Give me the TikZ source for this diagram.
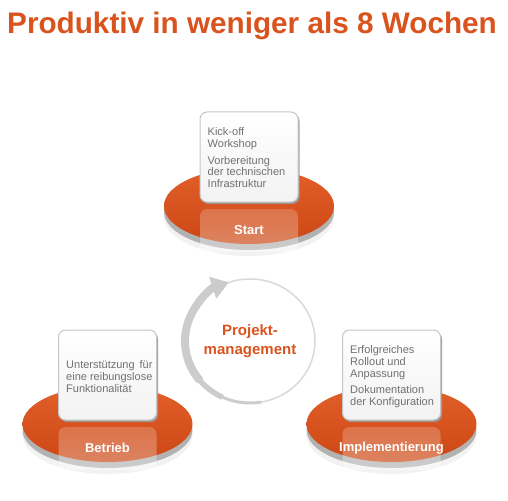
\documentclass[tikz,border=0pt]{standalone}
\usepackage{fontspec}
\setmainfont{Liberation Sans}
\usetikzlibrary{arrows.meta,shadows,fadings}
\definecolor{orng}{HTML}{D9531E}
\definecolor{disktop}{HTML}{E25F2A}
\definecolor{diskbot}{HTML}{CC4714}
\definecolor{txtgray}{HTML}{707070}
\tikzset{
  card/.style={draw=gray!45,line width=1pt,rounded corners=7pt,minimum width=98pt,minimum height=90pt,
    top color=white,bottom color=gray!10,
    drop shadow={shadow xshift=1.5pt,shadow yshift=-2pt,fill=gray!80,opacity=.9}},
  cardtext/.style={text=txtgray,align=left,inner sep=0pt,anchor=north west,font=\fontsize{11}{11.7}\selectfont},
  phase/.style={text=white,font=\fontsize{13}{13}\selectfont\bfseries},
}
\begin{document}
\begin{tikzpicture}[x=1pt,y=-1pt]
\useasboundingbox (0,0) rectangle (508,500);
\pgfmathsetmacro{\rx}{85}
\pgfmathsetmacro{\ry}{38}
%title
\node[text=orng,font=\fontsize{29.7}{30}\selectfont\bfseries,anchor=base] (title) at (252,34) {Produktiv in weniger als 8 Wochen};
%disks
\foreach \n/\cx/\cy/\lab in {start/249/206/Start,betrieb/107.5/424/Betrieb,impl/391.5/424/Implementierung}{
  \fill[black,opacity=.05] (\cx,\cy+11) ellipse [x radius=\rx,y radius=\ry+1];
  \fill[gray!60] (\cx,\cy+6) ellipse [x radius=\rx,y radius=\ry];
  \shade[top color=disktop,bottom color=diskbot] (\cx,\cy) ellipse [x radius=\rx,y radius=\ry];
  \node[card] (\n card) at (\cx,\cy-49) {};
  \fill[white,fill opacity=.2,rounded corners=7pt] (\cx-49,\cy+3) rectangle (\cx+49,\cy+46);
  \fill[white,fill opacity=.2,path fading=north,rounded corners=7pt] (\cx-49,\cy+3) rectangle (\cx+49,\cy+46);
  \node[phase] (\n) at (\cx,\cy+24) {\lab};
}
%text
\node[cardtext] (starttext) at ([shift={(8,16)}]startcard.north west) {Kick-off\\Workshop\\[5pt]Vorbereitung\\der technischen\\Infrastruktur};
\node[cardtext] (betriebtext) at ([shift={(8,31)}]betriebcard.north west) {Unterstützung\hspace{5pt}für\\eine reibungslose\\Funktionalität};
\node[cardtext] (impltext) at ([shift={(8,16)}]implcard.north west) {Erfolgreiches\\Rollout und\\Anpassung\\[5pt]Dokumentation\\der Konfiguration};
%cycle
\coordinate (pm) at (250,341);
\draw[gray!30,line width=1.5pt] (pm) ellipse [x radius=65,y radius=62];
\draw[gray!40,line width=3pt] ([shift={(80:65 and 62)}]pm) arc[start angle=80,end angle=130,x radius=65,y radius=62];
\draw[gray!40,line width=5.5pt] ([shift={(115:65 and 62)}]pm) arc[start angle=115,end angle=150,x radius=65,y radius=62];
\draw[gray!40,line width=8pt,-{Triangle[width=22pt,length=17pt]}] ([shift={(140:65 and 62)}]pm) arc[start angle=140,end angle=251,x radius=65,y radius=62];
\node[text=orng,font=\fontsize{15}{19}\selectfont\bfseries,align=center] (pmtext) at (pm) {Projekt-\\management};
\end{tikzpicture}
\end{document}
